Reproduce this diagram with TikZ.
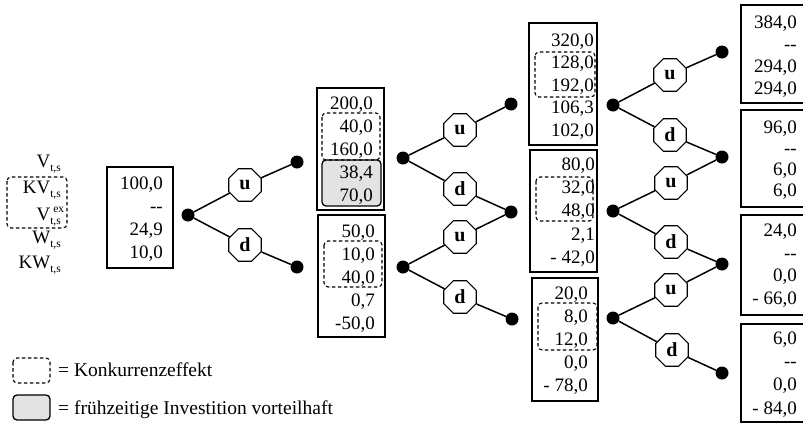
\documentclass[tikz,border=0pt]{standalone}
\usepackage{fontspec}
\setmainfont{Liberation Serif}
\usetikzlibrary{shapes.geometric}
\newcommand\subts{\raisebox{-4pt}{\fontsize{11.5}{11.5}\selectfont t,s}}
\newcommand\supex{\rlap{\hspace{3pt}\raisebox{8pt}{\fontsize{11.5}{11.5}\selectfont ex}}}
\newcommand\dd{{-}{-}}
\begin{document}
\begin{tikzpicture}[x=1pt,y=-1pt,
  dot/.style={circle,fill=black,inner sep=0pt,minimum size=13pt},
  oct/.style={regular polygon,regular polygon sides=8,draw,line width=1.2pt,fill=white,inner sep=0pt,minimum size=35pt,font=\fontsize{20}{20}\selectfont\bfseries},
  link/.style={line width=1.5pt},
  box/.style={draw,line width=1.3pt,inner sep=0pt},
  vals/.style={anchor=north east,align=right,inner sep=0pt},
  lab/.style={anchor=base east,inner sep=0pt,font=\fontsize{19}{20}\selectfont},
  legtext/.style={anchor=base west,inner sep=0pt,font=\fontsize{19.5}{20}\selectfont},
  konk/.style={draw,line width=1.1pt,rounded corners=4pt,dash pattern=on 3.5pt off 2.5pt},
  frueh/.style={draw,line width=1.3pt,rounded corners=4pt,fill=gray!22}]
\useasboundingbox (0,0) rectangle (803,424);

% boxes
\node[box,minimum width=66pt,minimum height=101pt] (B0) at (140,217.5) {};
\node[box,minimum width=67pt,minimum height=122pt] (B1) at (350.5,149) {};
\node[box,minimum width=67pt,minimum height=122pt] (B2) at (351.5,276) {};
\node[box,minimum width=68pt,minimum height=122pt] (B3) at (563,84) {};
\node[box,minimum width=67pt,minimum height=122pt] (B4) at (563.5,211) {};
\node[box,minimum width=66pt,minimum height=123pt] (B5) at (565,339.5) {};
\node[box,minimum width=74pt,minimum height=98pt] (B6) at (778,54) {};
\node[box,minimum width=74pt,minimum height=97pt] (B7) at (778,158.5) {};
\node[box,minimum width=74pt,minimum height=100pt] (B8) at (778,265) {};
\node[box,minimum width=74pt,minimum height=98pt] (B9) at (778,373) {};

% highlighted area
\draw[frueh] (322,160) rectangle (381,206);

% values
\node[vals,font=\fontsize{19}{23}\selectfont] (T0) at (163,176.5) {100,0\\\dd\\24,9\\10,0};
\node[vals,font=\fontsize{19}{23}\selectfont] (T1) at (373,96.5) {200,0\\40,0\\160,0\\38,4\\70,0};
\node[vals,font=\fontsize{19}{23}\selectfont] (T2) at (375,224.5) {50,0\\10,0\\40,0\\0,7\\-50,0};
\node[vals,font=\fontsize{19}{22.5}\selectfont] (T3) at (594,33.5) {320,0\\128,0\\192,0\\106,3\\102,0};
\node[vals,font=\fontsize{19}{23.25}\selectfont] (T4) at (595,157.5) {80,0\\32,0\\48,0\\2,1\\- 42,0};
\node[vals,font=\fontsize{19}{23}\selectfont] (T5) at (588,286.5) {20,0\\8,0\\12,0\\0,0\\- 78,0};
\node[vals,font=\fontsize{19}{22}\selectfont] (T6) at (797,15.5) {384,0\\\dd\\294,0\\294,0};
\node[vals,font=\fontsize{19}{21}\selectfont] (T7) at (797,120.5) {96,0\\\dd\\6,0\\6,0};
\node[vals,font=\fontsize{19}{22.7}\selectfont] (T8) at (797,223.5) {24,0\\\dd\\0,0\\- 66,0};
\node[vals,font=\fontsize{19}{23.3}\selectfont] (T9) at (797,331.5) {6,0\\\dd\\0,0\\- 84,0};

% competition effect frames
\draw[konk] (322,113) rectangle (380,160);
\draw[konk] (324,241) rectangle (382,287);
\draw[konk] (535,52) rectangle (595,97);
\draw[konk] (536,177) rectangle (593,221);
\draw[konk] (538,303) rectangle (597,350);
\draw[konk] (7,177) rectangle (67,228);

% row labels
\node[lab] (L1) at (61,167) {V\subts};
\node[lab] (L2) at (61,193) {KV\subts};
\node[lab] (L3) at (61,220) {V\supex\subts};
\node[lab] (L4) at (61,243) {W\subts};
\node[lab] (L5) at (61,268) {KW\subts};

% dots
\node[dot] (r0) at (188,215) {};
\node[dot] (a1) at (297,162) {};
\node[dot] (b1) at (297,267) {};
\node[dot] (a1r) at (403,158) {};
\node[dot] (b1r) at (403,267) {};
\node[dot] (a2) at (511,104) {};
\node[dot] (b2) at (511,212) {};
\node[dot] (c2) at (512,319) {};
\node[dot] (a2r) at (613,105) {};
\node[dot] (b2r) at (613,211) {};
\node[dot] (c2r) at (613,318) {};
\node[dot] (a3) at (722,52) {};
\node[dot] (b3) at (722,157) {};
\node[dot] (c3) at (722,264) {};
\node[dot] (d3) at (722,373) {};

% octagons
\node[oct] (u1) at (245,185) {u};
\node[oct] (d1) at (245,245) {d};
\node[oct] (u2a) at (460,130) {u};
\node[oct] (d2a) at (460,189) {d};
\node[oct] (u2b) at (460,237) {u};
\node[oct] (d2b) at (460,297) {d};
\node[oct] (u3a) at (670,75) {u};
\node[oct] (d3a) at (670,135) {d};
\node[oct] (u3b) at (671,183) {u};
\node[oct] (d3b) at (671,242) {d};
\node[oct] (u3c) at (671,290) {u};
\node[oct] (d3c) at (672,350) {d};

% connectors
\draw[link] (r0) -- (u1) -- (a1);
\draw[link] (r0) -- (d1) -- (b1);
\draw[link] (a1r) -- (u2a) -- (a2);
\draw[link] (a1r) -- (d2a) -- (b2);
\draw[link] (b1r) -- (u2b) -- (b2);
\draw[link] (b1r) -- (d2b) -- (c2);
\draw[link] (a2r) -- (u3a) -- (a3);
\draw[link] (a2r) -- (d3a) -- (b3);
\draw[link] (b2r) -- (u3b) -- (b3);
\draw[link] (b2r) -- (d3b) -- (c3);
\draw[link] (c2r) -- (u3c) -- (c3);
\draw[link] (c2r) -- (d3c) -- (d3);

% legend
\draw[konk] (13,358) rectangle (50,383);
\draw[frueh] (13,395) rectangle (50,420);
\node[legtext] (LG1) at (58,376.5) {= Konkurrenzeffekt};
\node[legtext] (LG2) at (58,414) {= frühzeitige Investition vorteilhaft};
\end{tikzpicture}
\end{document}
